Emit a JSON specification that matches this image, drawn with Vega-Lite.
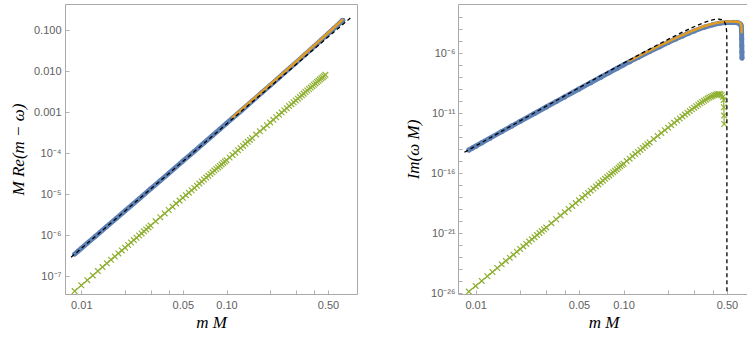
{
  "$schema": "https://vega.github.io/schema/vega-lite/v6.json",
  "background": "white",
  "padding": {"left": 8, "top": 3, "right": 2, "bottom": 2},
  "spacing": 46,
  "config": {
    "view": {"stroke": "#a8a8a8", "strokeWidth": 1},
    "axis": {
      "domain": false, "grid": false, "ticks": true, "tickSize": -4, "tickColor": "#b0b0b0",
      "labelFont": "Liberation Sans", "labelFontSize": 11, "labelColor": "#606060",
      "titleFont": "Liberation Serif", "titleFontSize": 17, "titleFontStyle": "italic",
      "titleFontWeight": "normal", "titleColor": "#000000"
    }
  },
  "datasets": {
    "blue": [
      {"x": 0.009, "re": 3.48e-7, "im": 8.56e-15},
      {"x": 0.0095, "re": 4.10e-7, "im": 1.25e-14},
      {"x": 0.01, "re": 4.79e-7, "im": 1.77e-14},
      {"x": 0.011, "re": 6.40e-7, "im": 3.41e-14},
      {"x": 0.0125, "re": 9.43e-7, "im": 8.25e-14},
      {"x": 0.015, "re": 1.64e-6, "im": 2.92e-13},
      {"x": 0.0175, "re": 2.62e-6, "im": 8.40e-13},
      {"x": 0.02, "re": 3.93e-6, "im": 2.09e-12},
      {"x": 0.025, "re": 7.74e-6, "im": 9.52e-12},
      {"x": 0.03, "re": 1.35e-5, "im": 3.26e-11},
      {"x": 0.035, "re": 2.15e-5, "im": 9.36e-11},
      {"x": 0.04, "re": 3.23e-5, "im": 2.30e-10},
      {"x": 0.05, "re": 6.38e-5, "im": 1.04e-9},
      {"x": 0.06, "re": 1.11e-4, "im": 3.55e-9},
      {"x": 0.07, "re": 1.78e-4, "im": 9.97e-9},
      {"x": 0.08, "re": 2.68e-4, "im": 2.45e-8},
      {"x": 0.09, "re": 3.84e-4, "im": 5.40e-8},
      {"x": 0.1, "re": 5.31e-4, "im": 1.08e-7},
      {"x": 0.11, "re": 7.11e-4, "im": 2.01e-7},
      {"x": 0.125, "re": 1.05e-3, "im": 4.48e-7},
      {"x": 0.15, "re": 1.85e-3, "im": 1.40e-6},
      {"x": 0.175, "re": 2.97e-3, "im": 3.58e-6},
      {"x": 0.2, "re": 4.50e-3, "im": 7.95e-6},
      {"x": 0.225, "re": 6.49e-3, "im": 1.54e-5},
      {"x": 0.25, "re": 9.01e-3, "im": 2.75e-5},
      {"x": 0.275, "re": 1.21e-2, "im": 4.66e-5},
      {"x": 0.3, "re": 1.59e-2, "im": 7.29e-5},
      {"x": 0.35, "re": 2.59e-2, "im": 1.48e-4},
      {"x": 0.4, "re": 3.96e-2, "im": 2.38e-4},
      {"x": 0.45, "re": 5.76e-2, "im": 3.28e-4},
      {"x": 0.5, "re": 8.07e-2, "im": 3.68e-4},
      {"x": 0.55, "re": 0.110, "im": 3.76e-4},
      {"x": 0.58, "re": 0.130, "im": 3.61e-4},
      {"x": 0.6, "re": 0.1455, "im": 3.39e-4},
      {"x": 0.61, "re": 0.1535, "im": 3.09e-4},
      {"x": 0.62, "re": 0.1619, "im": 2.51e-4},
      {"x": 0.625, "re": 0.1662, "im": 1.75e-4},
      {"x": 0.628, "re": 0.1688, "im": 6.3e-5},
      {"x": 0.629, "re": 0.1697, "im": 1.58e-5},
      {"x": 0.630, "re": 0.1705, "im": 3.98e-6},
      {"x": 0.631, "re": 0.1714, "im": 1.26e-6},
      {"x": 0.632, "re": 0.1722, "im": 3.98e-7}
    ],
    "orange": [
      {"x": 0.11, "re": 7.44e-4, "im": 2.42e-7},
      {"x": 0.125, "re": 1.10e-3, "im": 5.38e-7},
      {"x": 0.15, "re": 1.94e-3, "im": 1.68e-6},
      {"x": 0.175, "re": 3.11e-3, "im": 4.30e-6},
      {"x": 0.2, "re": 4.71e-3, "im": 9.56e-6},
      {"x": 0.225, "re": 6.80e-3, "im": 1.85e-5},
      {"x": 0.25, "re": 9.43e-3, "im": 3.31e-5},
      {"x": 0.275, "re": 1.27e-2, "im": 5.60e-5},
      {"x": 0.3, "re": 1.66e-2, "im": 8.76e-5},
      {"x": 0.35, "re": 2.71e-2, "im": 1.78e-4},
      {"x": 0.4, "re": 4.15e-2, "im": 2.86e-4},
      {"x": 0.45, "re": 6.03e-2, "im": 3.94e-4},
      {"x": 0.5, "re": 8.45e-2, "im": 4.42e-4},
      {"x": 0.55, "re": 0.115, "im": 4.52e-4},
      {"x": 0.58, "re": 0.136, "im": 4.34e-4},
      {"x": 0.6, "re": 0.152, "im": 4.07e-4},
      {"x": 0.61, "re": 0.161, "im": 3.71e-4},
      {"x": 0.62, "re": 0.170, "im": 3.02e-4},
      {"x": 0.625, "re": 0.174, "im": 2.10e-4},
      {"x": 0.628, "re": 0.177, "im": 1.0e-4},
      {"x": 0.629, "im": 5.6e-5}
    ],
    "green": [
      {"x": 0.009, "re": 4.37e-8, "im": 1.32e-26},
      {"x": 0.010, "re": 6.03e-8, "im": 3.88e-26},
      {"x": 0.011, "re": 8.06e-8, "im": 1.03e-25},
      {"x": 0.012, "re": 1.05e-7, "im": 2.51e-25},
      {"x": 0.013, "re": 1.34e-7, "im": 5.69e-25},
      {"x": 0.014, "re": 1.68e-7, "im": 1.22e-24},
      {"x": 0.015, "re": 2.08e-7, "im": 2.46e-24},
      {"x": 0.016, "re": 2.53e-7, "im": 4.77e-24},
      {"x": 0.017, "re": 3.04e-7, "im": 8.87e-24},
      {"x": 0.018, "re": 3.62e-7, "im": 1.59e-23},
      {"x": 0.019, "re": 4.27e-7, "im": 2.77e-23},
      {"x": 0.020, "re": 4.99e-7, "im": 4.68e-23},
      {"x": 0.021, "re": 5.79e-7, "im": 7.71e-23},
      {"x": 0.022, "re": 6.67e-7, "im": 1.24e-22},
      {"x": 0.023, "re": 7.64e-7, "im": 1.95e-22},
      {"x": 0.024, "re": 8.70e-7, "im": 3.02e-22},
      {"x": 0.025, "re": 9.86e-7, "im": 4.58e-22},
      {"x": 0.026, "re": 1.11e-6, "im": 6.84e-22},
      {"x": 0.027, "re": 1.25e-6, "im": 1.01e-21},
      {"x": 0.028, "re": 1.39e-6, "im": 1.46e-21},
      {"x": 0.029, "re": 1.55e-6, "im": 2.09e-21},
      {"x": 0.030, "re": 1.72e-6, "im": 2.95e-21},
      {"x": 0.0325, "re": 2.19e-6, "im": 6.69e-21},
      {"x": 0.035, "re": 2.75e-6, "im": 1.43e-20},
      {"x": 0.0375, "re": 3.40e-6, "im": 2.89e-20},
      {"x": 0.040, "re": 4.13e-6, "im": 5.58e-20},
      {"x": 0.0425, "re": 4.97e-6, "im": 1.04e-19},
      {"x": 0.045, "re": 5.92e-6, "im": 1.85e-19},
      {"x": 0.0475, "re": 6.98e-6, "im": 3.21e-19},
      {"x": 0.050, "re": 8.16e-6, "im": 5.43e-19},
      {"x": 0.0525, "re": 9.47e-6, "im": 8.93e-19},
      {"x": 0.055, "re": 1.09e-5, "im": 1.43e-18},
      {"x": 0.0575, "re": 1.25e-5, "im": 2.25e-18},
      {"x": 0.060, "re": 1.42e-5, "im": 3.48e-18},
      {"x": 0.0625, "re": 1.61e-5, "im": 5.27e-18},
      {"x": 0.065, "re": 1.82e-5, "im": 7.85e-18},
      {"x": 0.0675, "re": 2.04e-5, "im": 1.15e-17},
      {"x": 0.070, "re": 2.28e-5, "im": 1.67e-17},
      {"x": 0.0725, "re": 2.54e-5, "im": 2.38e-17},
      {"x": 0.075, "re": 2.81e-5, "im": 3.36e-17},
      {"x": 0.0775, "re": 3.11e-5, "im": 4.69e-17},
      {"x": 0.080, "re": 3.42e-5, "im": 6.47e-17},
      {"x": 0.0825, "re": 3.76e-5, "im": 8.84e-17},
      {"x": 0.085, "re": 4.12e-5, "im": 1.20e-16},
      {"x": 0.0875, "re": 4.50e-5, "im": 1.60e-16},
      {"x": 0.090, "re": 4.90e-5, "im": 2.13e-16},
      {"x": 0.0925, "re": 5.33e-5, "im": 2.82e-16},
      {"x": 0.095, "re": 5.78e-5, "im": 3.69e-16},
      {"x": 0.0975, "re": 6.26e-5, "im": 4.78e-16},
      {"x": 0.100, "re": 6.76e-5, "im": 6.19e-16},
      {"x": 0.105, "re": 7.85e-5, "im": 1.01e-15},
      {"x": 0.11, "re": 9.04e-5, "im": 1.62e-15},
      {"x": 0.115, "re": 1.03e-4, "im": 2.53e-15},
      {"x": 0.12, "re": 1.18e-4, "im": 3.89e-15},
      {"x": 0.125, "re": 1.33e-4, "im": 5.85e-15},
      {"x": 0.13, "re": 1.50e-4, "im": 8.70e-15},
      {"x": 0.135, "re": 1.69e-4, "im": 1.27e-14},
      {"x": 0.14, "re": 1.89e-4, "im": 1.83e-14},
      {"x": 0.145, "re": 2.10e-4, "im": 2.60e-14},
      {"x": 0.15, "re": 2.33e-4, "im": 3.64e-14},
      {"x": 0.16, "re": 2.84e-4, "im": 6.92e-14},
      {"x": 0.17, "re": 3.41e-4, "im": 1.26e-13},
      {"x": 0.18, "re": 4.06e-4, "im": 2.22e-13},
      {"x": 0.19, "re": 4.79e-4, "im": 3.78e-13},
      {"x": 0.20, "re": 5.60e-4, "im": 6.25e-13},
      {"x": 0.21, "re": 6.50e-4, "im": 1.01e-12},
      {"x": 0.22, "re": 7.49e-4, "im": 1.58e-12},
      {"x": 0.23, "re": 8.58e-4, "im": 2.42e-12},
      {"x": 0.24, "re": 9.76e-4, "im": 3.64e-12},
      {"x": 0.25, "re": 1.11e-3, "im": 5.36e-12},
      {"x": 0.26, "re": 1.25e-3, "im": 7.76e-12},
      {"x": 0.27, "re": 1.40e-3, "im": 1.10e-11},
      {"x": 0.28, "re": 1.56e-3, "im": 1.54e-11},
      {"x": 0.29, "re": 1.74e-3, "im": 2.13e-11},
      {"x": 0.30, "re": 1.93e-3, "im": 2.89e-11},
      {"x": 0.31, "re": 2.13e-3, "im": 3.86e-11},
      {"x": 0.32, "re": 2.35e-3, "im": 5.10e-11},
      {"x": 0.33, "re": 2.58e-3, "im": 6.63e-11},
      {"x": 0.34, "re": 2.82e-3, "im": 8.51e-11},
      {"x": 0.35, "re": 3.09e-3, "im": 1.08e-10},
      {"x": 0.36, "re": 3.36e-3, "im": 1.34e-10},
      {"x": 0.37, "re": 3.66e-3, "im": 1.65e-10},
      {"x": 0.38, "re": 3.97e-3, "im": 2.00e-10},
      {"x": 0.39, "re": 4.29e-3, "im": 2.38e-10},
      {"x": 0.40, "re": 4.64e-3, "im": 2.79e-10},
      {"x": 0.41, "re": 5.00e-3, "im": 3.19e-10},
      {"x": 0.42, "re": 5.38e-3, "im": 3.55e-10},
      {"x": 0.43, "re": 5.78e-3, "im": 3.84e-10},
      {"x": 0.44, "re": 6.20e-3, "im": 3.97e-10},
      {"x": 0.45, "re": 6.64e-3, "im": 3.85e-10},
      {"x": 0.46, "re": 7.10e-3, "im": 3.35e-10},
      {"x": 0.47, "re": 7.58e-3, "im": 2.4e-10},
      {"x": 0.475, "im": 1.26e-10},
      {"x": 0.477, "im": 3.16e-11},
      {"x": 0.478, "im": 6.3e-12},
      {"x": 0.479, "im": 1.26e-12},
      {"x": 0.48, "re": 8.09e-3}
    ],
    "dashL": [
      {"x": 0.0085, "re": 2.92e-7},
      {"x": 0.713, "re": 0.197}
    ],
    "dashR": [
      {"x": 0.0084, "im": 5.5e-15},
      {"x": 0.01, "im": 1.84e-14},
      {"x": 0.02, "im": 2.30e-12},
      {"x": 0.03, "im": 3.86e-11},
      {"x": 0.05, "im": 1.32e-9},
      {"x": 0.07, "im": 1.33e-8},
      {"x": 0.1, "im": 1.50e-7},
      {"x": 0.15, "im": 2.25e-6},
      {"x": 0.2, "im": 1.44e-5},
      {"x": 0.25, "im": 5.73e-5},
      {"x": 0.3, "im": 1.64e-4},
      {"x": 0.35, "im": 3.62e-4},
      {"x": 0.4, "im": 6.15e-4},
      {"x": 0.42, "im": 6.92e-4},
      {"x": 0.44, "im": 7.18e-4},
      {"x": 0.46, "im": 6.53e-4},
      {"x": 0.48, "im": 4.40e-4},
      {"x": 0.49, "im": 2.54e-4},
      {"x": 0.495, "im": 1.36e-4},
      {"x": 0.498, "im": 5.7e-5},
      {"x": 0.4995, "im": 1.43e-5},
      {"x": 0.5, "im": 1e-30}
    ]
  },
  "hconcat": [
    {
      "width": 292,
      "height": 290,
      "encoding": {
        "x": {
          "field": "x", "type": "quantitative",
          "scale": {"type": "log", "domain": [0.00772, 0.792], "nice": false},
          "axis": {
            "values": [0.01, 0.02, 0.03, 0.04, 0.05, 0.1, 0.2, 0.3, 0.4, 0.5],
            "labelExpr": "indexof([0.01, 0.05, 0.1, 0.5], datum.value) >= 0 ? format(datum.value, '.2f') : ''",
            "title": "m M", "labelPadding": 9, "titlePadding": 4
          }
        },
        "y": {
          "field": "re", "type": "quantitative",
          "scale": {"type": "log", "domain": [3.71e-8, 0.43], "nice": false},
          "axis": {
            "values": [0.1, 0.01, 0.001, 0.0001, 0.00001, 0.000001, 0.0000001],
            "labelExpr": "datum.value > 0.0005 ? format(datum.value, '.3f') : datum.value > 5e-5 ? '10⁻⁴' : datum.value > 5e-6 ? '10⁻⁵' : datum.value > 5e-7 ? '10⁻⁶' : '10⁻⁷'",
            "title": "M Re(m − ω)", "labelPadding": 8, "titlePadding": 6
          }
        }
      },
      "layer": [
        {"data": {"name": "blue"}, "mark": {"type": "line", "color": "#5E81B5", "strokeWidth": 5, "strokeCap": "round", "strokeJoin": "round", "clip": true}},
        {"data": {"name": "blue"}, "mark": {"type": "circle", "color": "#5E81B5", "size": 22, "opacity": 1, "clip": true}},
        {"data": {"name": "orange"}, "mark": {"type": "line", "color": "#E19C24", "strokeWidth": 2.5, "strokeCap": "round", "clip": true}},
        {"data": {"name": "green"}, "mark": {"type": "line", "color": "#8FB032", "strokeWidth": 1.2, "clip": true}},
        {"data": {"name": "green"}, "mark": {"type": "point", "shape": "M-1,-1L1,1M-1,1L1,-1", "filled": false, "color": "#8FB032", "strokeWidth": 1.2, "size": 32, "opacity": 1, "clip": true}},
        {"data": {"name": "dashL"}, "mark": {"type": "line", "color": "#000000", "strokeWidth": 1.3, "strokeDash": [4, 3], "clip": true}}
      ]
    },
    {
      "width": 291,
      "height": 290,
      "encoding": {
        "x": {
          "field": "x", "type": "quantitative",
          "scale": {"type": "log", "domain": [0.0076, 0.705], "nice": false},
          "axis": {
            "values": [0.01, 0.02, 0.03, 0.04, 0.05, 0.1, 0.2, 0.3, 0.4, 0.5],
            "labelExpr": "indexof([0.01, 0.05, 0.1, 0.5], datum.value) >= 0 ? format(datum.value, '.2f') : ''",
            "title": "m M", "labelPadding": 9, "titlePadding": 4
          }
        },
        "y": {
          "field": "im", "type": "quantitative",
          "scale": {"type": "log", "domain": [8.3e-27, 0.0129], "nice": false},
          "axis": {
            "values": [1e-3, 1e-4, 1e-5, 1e-6, 1e-7, 1e-8, 1e-9, 1e-10, 1e-11, 1e-12, 1e-13, 1e-14, 1e-15, 1e-16, 1e-17, 1e-18, 1e-19, 1e-20, 1e-21, 1e-22, 1e-23, 1e-24, 1e-25, 1e-26],
            "labelExpr": "abs(datum.value / 1e-6 - 1) < 0.01 ? '10⁻⁶' : abs(datum.value / 1e-11 - 1) < 0.01 ? '10⁻¹¹' : abs(datum.value / 1e-16 - 1) < 0.01 ? '10⁻¹⁶' : abs(datum.value / 1e-21 - 1) < 0.01 ? '10⁻²¹' : abs(datum.value / 1e-26 - 1) < 0.01 ? '10⁻²⁶' : ''",
            "title": "Im(ω M)", "labelPadding": 7, "titlePadding": 8
          }
        }
      },
      "layer": [
        {"data": {"name": "blue"}, "mark": {"type": "line", "color": "#5E81B5", "strokeWidth": 5, "strokeCap": "round", "strokeJoin": "round", "clip": true}},
        {"data": {"name": "blue"}, "mark": {"type": "circle", "color": "#5E81B5", "size": 26, "opacity": 1, "clip": true}},
        {"data": {"name": "orange"}, "mark": {"type": "line", "color": "#E19C24", "strokeWidth": 2.5, "strokeCap": "round", "clip": true}},
        {"data": {"name": "green"}, "mark": {"type": "line", "color": "#8FB032", "strokeWidth": 1.2, "clip": true}},
        {"data": {"name": "green"}, "mark": {"type": "point", "shape": "M-1,-1L1,1M-1,1L1,-1", "filled": false, "color": "#8FB032", "strokeWidth": 1.2, "size": 32, "opacity": 1, "clip": true}},
        {"data": {"name": "dashR"}, "mark": {"type": "line", "color": "#000000", "strokeWidth": 1.3, "strokeDash": [4, 3], "clip": true}}
      ]
    }
  ]
}
